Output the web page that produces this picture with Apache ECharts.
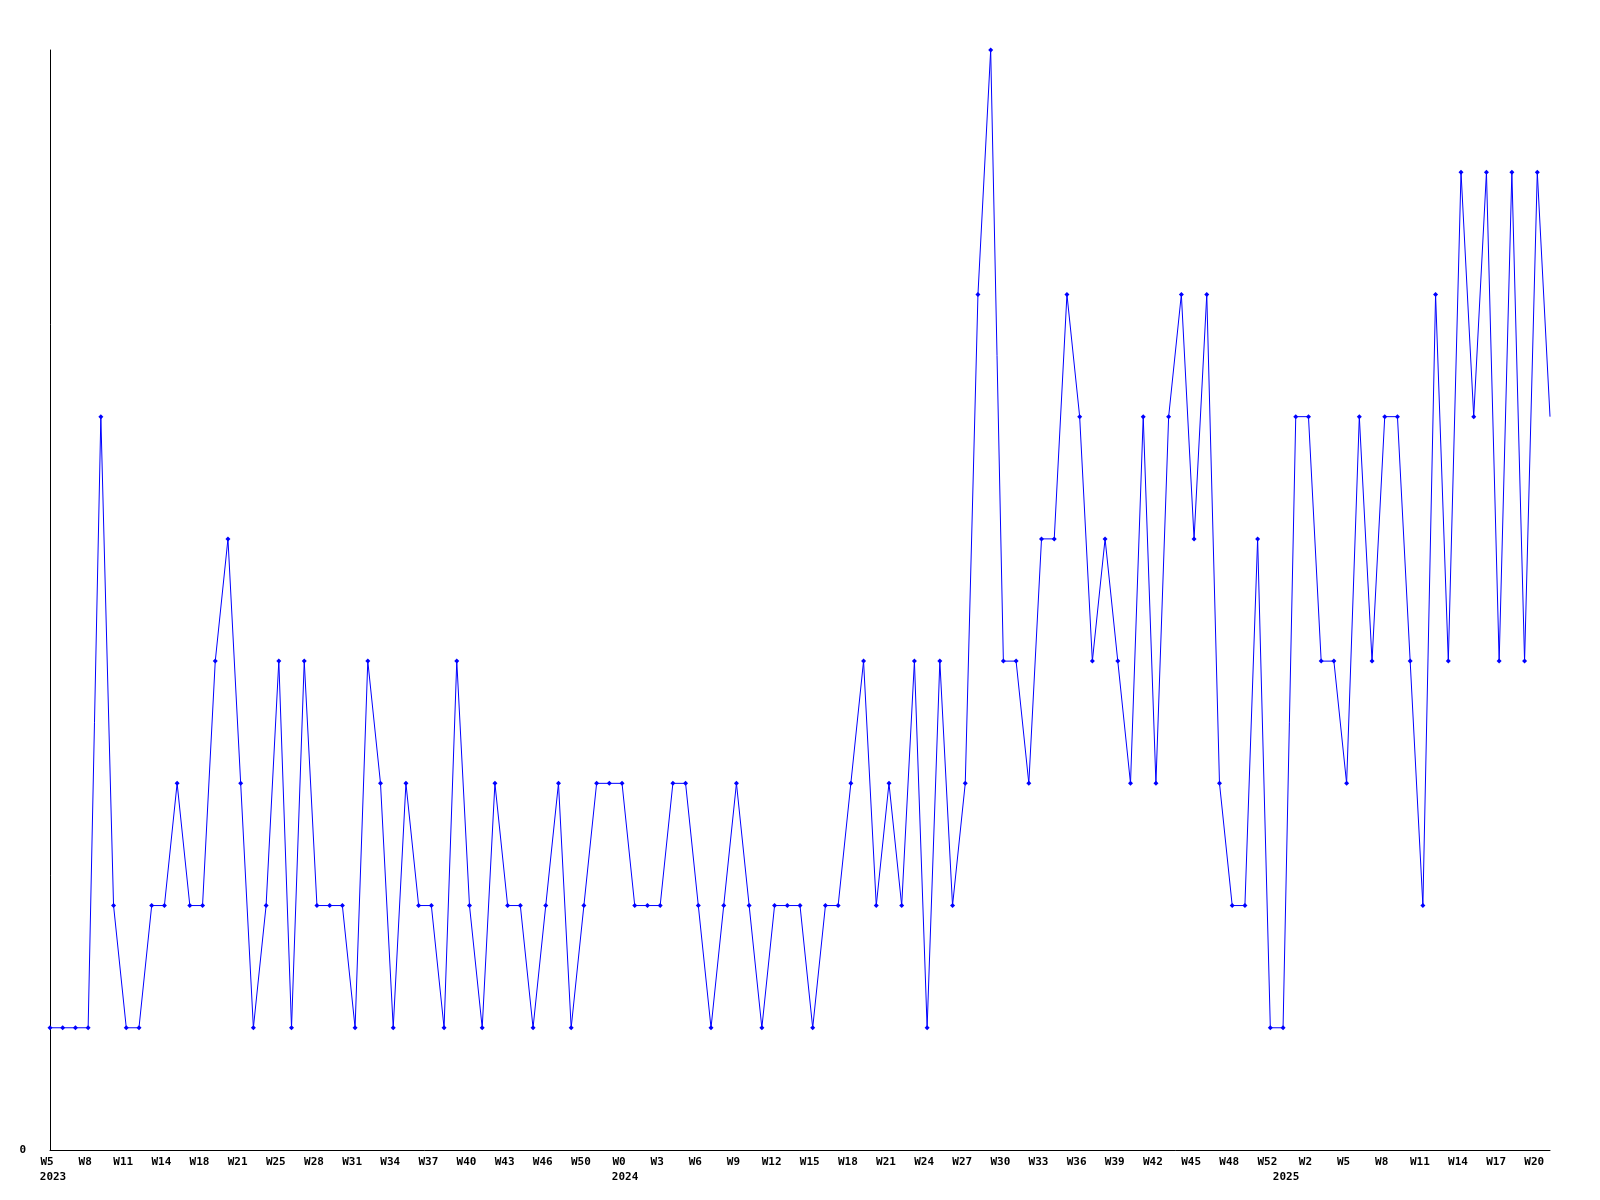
<!DOCTYPE html>
<html>
<head>
<meta charset="utf-8">
<style>
  html, body { margin: 0; padding: 0; background: #ffffff; }
  #chart { width: 1600px; height: 1200px; }
</style>
<script src="https://cdn.jsdelivr.net/npm/echarts@6/dist/echarts.min.js"></script>
</head>
<body>
<div id="chart"></div>
<script>
// Week categories (one per data point)
const weeks2023 = ['W5','W6','W7','W8','W9','W10','W11','W12','W13','W14','W16','W17','W18','W19','W20','W21','W23','W24','W25','W26','W27','W28','W29','W30','W31','W32','W33','W34','W35','W36','W37','W38','W39','W40','W41','W42','W43','W44','W45','W46','W48','W49','W50','W51','W52'];
const weeks2024 = ['W0','W1','W2','W3','W4','W5','W6','W7','W8','W9','W10','W11','W12','W13','W14','W15','W16','W17','W18','W19','W20','W21','W22','W23','W24','W25','W26','W27','W28','W29','W30','W31','W32','W33','W34','W35','W36','W37','W38','W39','W40','W41','W42','W43','W44','W45','W46','W47','W48','W49','W51','W52'];
const weeks2025 = ['W0','W1','W2','W3','W4','W5','W6','W7','W8','W9','W10','W11','W12','W13','W14','W15','W16','W17','W18','W19','W20','W21'];
const yearNames = ['2023','2024','2025'];

// Series values
const values2023 = [1,1,1,1,6,2,1,1,2,2,3,2,2,4,5,3,1,2,4,1,4,2,2,2,1,4,3,1,3,2,2,1,4,2,1,3,2,2,1,2,3,1,2,3,3];
const values2024 = [3,2,2,2,3,3,2,1,2,3,2,1,2,2,2,1,2,2,3,4,2,3,2,4,1,4,2,3,7,9,4,4,3,5,5,7,6,4,5,4,3,6,3,6,7,5,7,3,2,2,5,1];
const values2025 = [1,6,6,4,4,3,6,4,6,6,4,2,7,4,8,6,8,4,8,4,8,6];

// y-axis tick labels
const yTickLabels = ['0'];

const categories = [].concat(weeks2023, weeks2024, weeks2025);
const values = [].concat(values2023, values2024, values2025);
const yearStarts = [0, weeks2023.length, weeks2023.length + weeks2024.length];
const yearOfIndex = {};
yearStarts.forEach((s, k) => { yearOfIndex[s] = yearNames[k]; });

const font = { fontFamily: 'DejaVu Sans Mono', fontWeight: 'bold', fontSize: 11, color: '#000000' };

const chart = echarts.init(document.getElementById('chart'), null, { renderer: 'canvas' });
chart.setOption({
  animation: false,
  backgroundColor: '#ffffff',
  grid: { left: 50, right: 50, top: 50, bottom: 50, containLabel: false },
  xAxis: [
    {
      type: 'category',
      data: categories,
      boundaryGap: false,
      axisLine: { show: true, lineStyle: { color: '#000000', width: 1 } },
      axisTick: { show: false },
      splitLine: { show: false },
      axisLabel: Object.assign({ interval: 2, margin: 7, hideOverlap: false, padding: [0, 6, 0, 0] }, font)
    },
    {
      type: 'category',
      data: categories,
      boundaryGap: false,
      position: 'bottom',
      axisLine: { show: false },
      axisTick: { show: false },
      splitLine: { show: false },
      axisLabel: Object.assign({
        interval: function (index) { return yearOfIndex[index] !== undefined; },
        formatter: function (value, index) { return yearOfIndex[index] || ''; },
        margin: 22,
        padding: [0, 0, 0, 6]
      }, font)
    }
  ],
  yAxis: {
    type: 'value',
    min: 0,
    max: 9,
    interval: 9,
    axisLine: { show: true, lineStyle: { color: '#000000', width: 1 } },
    axisTick: { show: false },
    splitLine: { show: false },
    axisLabel: Object.assign({
      margin: 24,
      padding: [2, 0, 0, 0],
      formatter: function (v) { return yTickLabels.indexOf(String(v)) >= 0 ? String(v) : ''; }
    }, font)
  },
  series: [{
    type: 'line',
    xAxisIndex: 0,
    data: values,
    showAllSymbol: true,
    symbol: function (v, params) { return params.dataIndex === values.length - 1 ? 'none' : 'diamond'; },
    symbolSize: 5,
    itemStyle: { color: '#0000ff' },
    lineStyle: { color: '#0000ff', width: 1 },
    emphasis: { disabled: true }
  }]
});
</script>
</body>
</html>
